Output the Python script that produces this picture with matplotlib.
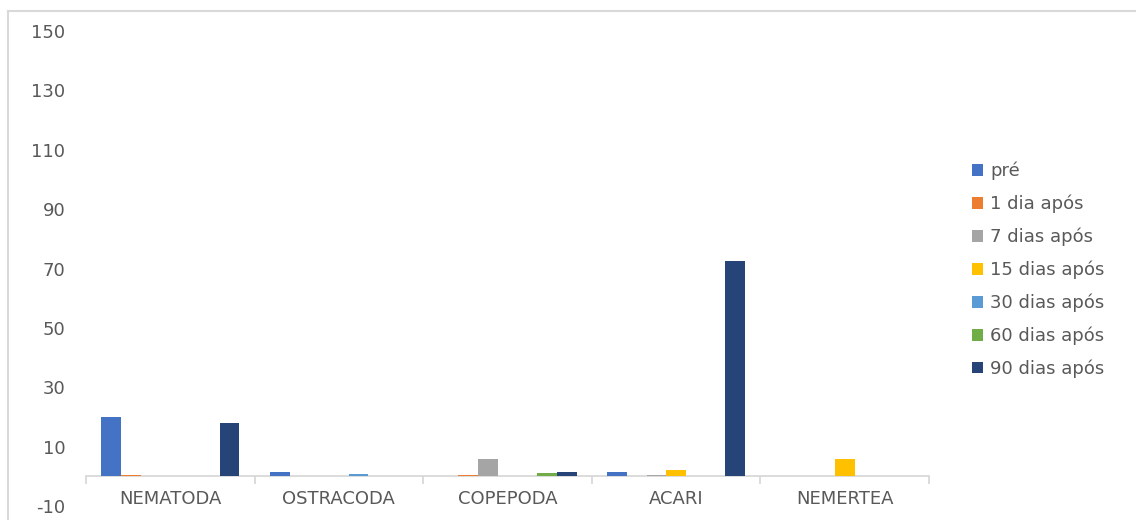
import numpy as np
import matplotlib.pyplot as plt
from matplotlib.patches import Patch
from matplotlib.lines import Line2D

plt.rcParams['font.family'] = ['DejaVu Sans']
plt.rcParams['axes.unicode_minus'] = False

# categories and series
categories = ['NEMATODA', 'OSTRACODA', 'COPEPODA', 'ACARI', 'NEMERTEA']
series_names = ['pré', '1 dia após', '7 dias após', '15 dias após',
                '30 dias após', '60 dias após', '90 dias após']
pre = [20, 1.5, 0, 1.5, 0]
dia1 = [0.5, 0, 0.5, 0, 0]
dias7 = [0, 0, 6, 0.5, 0]
dias15 = [0, 0, 0, 2, 6]
dias30 = [0, 0.8, 0, 0, 0]
dias60 = [0, 0, 1.2, 0, 0]
dias90 = [18, 0, 1.5, 72.5, 0]
values = [pre, dia1, dias7, dias15, dias30, dias60, dias90]
y_ticks = [-10, 10, 30, 50, 70, 90, 110, 130, 150]

colors = ['#4472C4', '#ED7D31', '#A5A5A5', '#FFC000',
          '#5B9BD5', '#70AD47', '#264478']
text_color = '#595959'
axis_color = '#D9D9D9'
fs = 13

W, H = 1136, 520
fig = plt.figure(figsize=(W / 100, H / 100), dpi=100)
ax = fig.add_axes([86 / W, 1 - 506 / H, (929 - 86) / W, (506 - 31) / H])

x = np.arange(len(categories))
width = 0.117
for i, (vals, col) in enumerate(zip(values, colors)):
    ax.bar(x + (i - 3) * width, vals, width=width, color=col, zorder=3)

ax.set_xlim(-0.5, len(categories) - 0.5)
ax.set_ylim(-10, 150)
ax.set_yticks(y_ticks)
ax.set_xticks(x)
ax.set_xticklabels(categories)
ax.set_xticks(np.arange(len(categories) + 1) - 0.5, minor=True)

for side in ['top', 'right', 'left']:
    ax.spines[side].set_visible(False)
ax.spines['bottom'].set_position(('data', 0))
ax.spines['bottom'].set_color(axis_color)
ax.spines['bottom'].set_linewidth(1.3)

ax.tick_params(axis='y', length=0, pad=15, labelsize=fs, labelcolor=text_color)
ax.tick_params(axis='x', which='major', length=0, pad=10, labelsize=fs,
               labelcolor=text_color)
ax.tick_params(axis='x', which='minor', length=6, width=1.3, color=axis_color)

# legend
handles = [Patch(facecolor=c, edgecolor='none') for c in colors]
fig.legend(handles, series_names, loc='center left',
           bbox_to_anchor=(972 / W, 1 - 270 / H), frameon=False,
           fontsize=fs, labelcolor=text_color, handlelength=0.6,
           handleheight=0.6, handletextpad=0.4, labelspacing=0.8,
           borderaxespad=0, borderpad=0)

# chart border (top and left visible)
fig.add_artist(Line2D([8 / W, 1], [1 - 11 / H, 1 - 11 / H], color=axis_color,
                      linewidth=1.5, transform=fig.transFigure))
fig.add_artist(Line2D([8 / W, 8 / W], [0, 1 - 11 / H], color=axis_color,
                      linewidth=1.5, transform=fig.transFigure))

fig.savefig('out.png', dpi=100)
